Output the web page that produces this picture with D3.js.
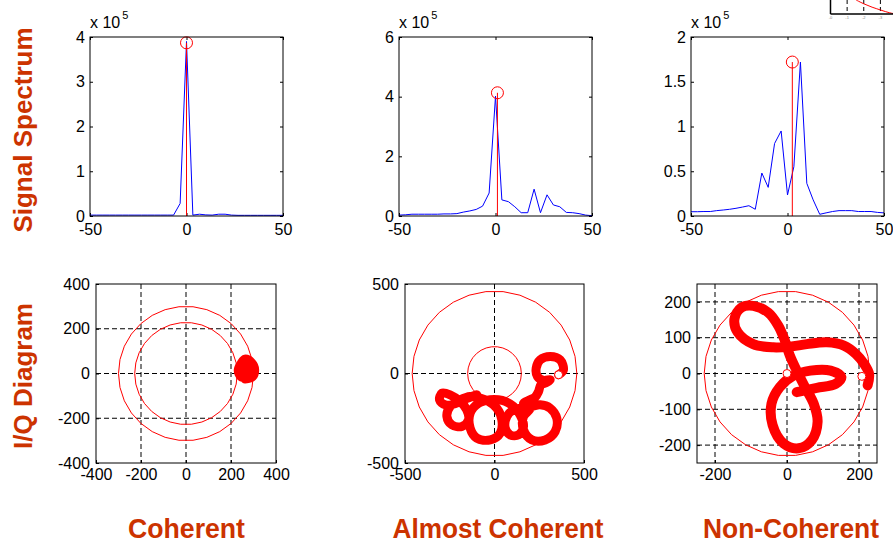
<!DOCTYPE html>
<html>
<head>
<meta charset="utf-8">
<script src="https://cdn.jsdelivr.net/npm/d3@7"></script>
<style>
  body { margin: 0; background: #fff; }
  svg { display: block; font-family: "Liberation Sans", Arial, Helvetica, sans-serif; }
</style>
</head>
<body>
<div id="chart"></div>
<script>
// ---- data (spectrum values are in units of 1e5) ----
const freqBins = [-50, -46.7, -43.3, -40, -36.7, -33.3, -30, -26.7, -23.3, -20, -16.7, -13.3, -10, -6.7, -3.3, 0,
                  3.3, 6.7, 10, 13.3, 16.7, 20, 23.3, 26.7, 30, 33.3, 36.7, 40, 43.3, 46.7, 50];
const coherentSpec = [0.02, 0.02, 0.02, 0.02, 0.02, 0.02, 0.02, 0.02, 0.02, 0.02, 0.02, 0.02, 0.02, 0.02, 0.28, 3.90,
                      0.02, 0.04, 0.025, 0.02, 0.04, 0.04, 0.02, 0.015, 0.015, 0.015, 0.015, 0.015, 0.015, 0.015, 0.015];
const almostSpec = [0.03, 0.04, 0.06, 0.06, 0.06, 0.06, 0.06, 0.07, 0.07, 0.08, 0.13, 0.17, 0.22, 0.33, 0.77, 4.02,
                    0.54, 0.48, 0.31, 0.11, 0.11, 0.90, 0.11, 0.71, 0.37, 0.31, 0.12, 0.11, 0.08, 0.03, 0.01];
const nonCohSpec = [0.048, 0.048, 0.05, 0.05, 0.06, 0.067, 0.075, 0.086, 0.10, 0.115, 0.075, 0.48, 0.32, 0.81, 0.95, 0.235,
                    0.55, 1.72, 0.365, 0.18, 0.019, 0.035, 0.05, 0.06, 0.06, 0.06, 0.05, 0.05, 0.05, 0.04, 0.035];
const peakFreq = [0, 1.0, 2.5];
const peakValue = [3.87, 4.13, 1.72];

const specXTicks = [-50, 0, 50];
const specYTicks = [[0, 1, 2, 3, 4], [0, 2, 4, 6], [0, 0.5, 1, 1.5, 2]];

// I/Q traces [I, Q]
const coherentIQ = [[262, -25], [295, -15], [305, 18], [292, 48], [262, 64], [245, 45], [232, 15], [245, -15],
                    [270, -8], [288, 15], [275, 38], [252, 30], [250, 5], [268, 0], [275, 18]];
const almostIQ = [[358, -7], [385, 20], [367, 76], [311, 95], [255, 76], [233, 30], [240, -17], [274, -39], [311, -35],
                  [292, -50], [259, -63], [246, -101], [227, -132], [199, -147], [162, -166], [199, -194], [162, -240],
                  [162, -315], [209, -371], [283, -371], [339, -324], [348, -250], [311, -194], [255, -175], [209, -184],
                  [153, -194], [106, -203], [69, -240], [60, -305], [88, -343], [134, -343], [162, -296], [143, -231],
                  [106, -184], [60, -156], [22, -147], [-24, -147], [-89, -166], [-136, -222], [-136, -305], [-99, -361],
                  [-24, -371], [32, -333], [41, -259], [13, -194], [-34, -156], [-80, -138], [-136, -128], [-192, -147],
                  [-248, -184], [-266, -240], [-238, -287], [-182, -296], [-145, -259], [-155, -203], [-192, -156],
                  [-248, -119], [-294, -110], [-307, -147], [-276, -175], [-220, -169], [-173, -147], [-99, -119]];
const nonCohIQ = [[224, -33], [228, -1], [214, 27], [191, 55], [158, 78], [111, 87], [55, 82], [8, 75], [-38, 73],
                  [-94, 82], [-137, 115], [-146, 152], [-127, 184], [-94, 189], [-52, 170], [-24, 133], [-6, 92],
                  [8, 50], [27, 8], [50, -38], [74, -84], [85, -135], [69, -186], [32, -209], [-10, -195], [-40, -144],
                  [-43, -84], [-20, -38], [18, -6], [65, 8], [121, 8], [151, -10], [135, -29], [83, -40], [27, -52]];

const coherentRings = [300, 228];
const almostRings = [460, 150];
const nonCohRings = [230];
const almostMarks = [[358, -7]];
const nonCohMarks = [[0, 0], [208, -8]];

const iqTicks = [
  { x: [-400, -200, 0, 200, 400], y: [-400, -200, 0, 200, 400], lim: 400 },
  { x: [-500, 0, 500], y: [-500, 0, 500], lim: 500 },
  { x: [-200, 0, 200], y: [-200, -100, 0, 100, 200], lim: 250 }
];

const rowLabels = ["Signal Spectrum", "I/Q Diagram"];
const colLabels = ["Coherent", "Almost Coherent", "Non-Coherent"];

// little clipped piece of another figure in the top-right corner
const miniTicks = [0, 1, 2, 3];
const miniCurve = [[1.55, 0.58], [2.0, 0.42], [2.5, 0.28], [3.0, 0.17], [3.6, 0.03], [4.0, 0.0]];

// ---- layout ----
const width = 893, height = 543;
const labelColor = "#cc3300";
const topBoxes = [{ x0: 90, x1: 283 }, { x0: 399, x1: 592 }, { x0: 691, x1: 884 }];
const botBoxes = [{ x0: 96, x1: 276 }, { x0: 405, x1: 584 }, { x0: 697, x1: 877 }];
const topY = [37, 216], botY = [284, 463];

const svg = d3.select("#chart").append("svg")
  .attr("width", width)
  .attr("height", height)
  .style("background", "#fff");

function styleAxis(g) {
  g.select(".domain").remove();
  g.attr("font-family", null).attr("font-size", 16);
  g.selectAll(".tick line").attr("stroke", "#000");
  g.selectAll(".tick text").attr("fill", "#000");
}

function drawSpectrum(i, values) {
  const b = topBoxes[i];
  const x = d3.scaleLinear().domain([-50, 50]).range([b.x0, b.x1]);
  const yT = specYTicks[i];
  const y = d3.scaleLinear().domain([0, yT[yT.length - 1]]).range([topY[1], topY[0]]);
  const fmt = d => String(d);

  svg.append("g").attr("transform", `translate(0,${topY[1]})`)
    .call(d3.axisBottom(x).tickValues(specXTicks).tickFormat(fmt).tickSize(-3).tickSizeOuter(0).tickPadding(8))
    .call(styleAxis);
  svg.append("g").attr("transform", `translate(0,${topY[0]})`)
    .call(d3.axisTop(x).tickValues(specXTicks).tickFormat("").tickSize(-3).tickSizeOuter(0))
    .call(styleAxis);
  svg.append("g").attr("transform", `translate(${b.x0},0)`)
    .call(d3.axisLeft(y).tickValues(yT).tickFormat(fmt).tickSize(-3).tickSizeOuter(0).tickPadding(5))
    .call(styleAxis);
  svg.append("g").attr("transform", `translate(${b.x1},0)`)
    .call(d3.axisRight(y).tickValues(yT).tickFormat("").tickSize(-3).tickSizeOuter(0))
    .call(styleAxis);

  // spectrum line
  const line = d3.line().x((d, k) => x(freqBins[k])).y(d => y(d));
  svg.append("path")
    .datum(values)
    .attr("d", line)
    .attr("fill", "none")
    .attr("stroke", "#0000ff")
    .attr("stroke-width", 1);

  // detected peak: stem + circle
  svg.append("line")
    .attr("x1", x(peakFreq[i])).attr("x2", x(peakFreq[i]))
    .attr("y1", y(0)).attr("y2", y(peakValue[i]))
    .attr("stroke", "#ff0000").attr("stroke-width", 1);
  svg.append("circle")
    .attr("cx", x(peakFreq[i])).attr("cy", y(peakValue[i]))
    .attr("r", 6)
    .attr("fill", "none").attr("stroke", "#ff0000").attr("stroke-width", 1);

  // box
  svg.append("rect")
    .attr("x", b.x0).attr("y", topY[0])
    .attr("width", b.x1 - b.x0).attr("height", topY[1] - topY[0])
    .attr("fill", "none").attr("stroke", "#000").attr("stroke-width", 1);

  // exponent label
  const t = svg.append("text")
    .attr("x", b.x0).attr("y", 28)
    .attr("font-size", 16)
    .text("x 10");
  t.append("tspan").attr("dx", 2).attr("dy", -9).attr("font-size", 11).text("5");
}

function drawIQ(i, trace, rings, marks, strokeW) {
  const b = botBoxes[i];
  const tk = iqTicks[i];
  const x = d3.scaleLinear().domain([-tk.lim, tk.lim]).range([b.x0, b.x1]);
  const y = d3.scaleLinear().domain([-tk.lim, tk.lim]).range([botY[1], botY[0]]);
  const fmt = d => String(d);

  // dashed grid
  svg.append("g").selectAll("line")
    .data(tk.x.filter(v => Math.abs(v) < tk.lim))
    .join("line")
    .attr("x1", d => x(d)).attr("x2", d => x(d))
    .attr("y1", botY[0]).attr("y2", botY[1])
    .attr("stroke", "#000").attr("stroke-dasharray", "5,3");
  svg.append("g").selectAll("line")
    .data(tk.y.filter(v => Math.abs(v) < tk.lim))
    .join("line")
    .attr("y1", d => y(d)).attr("y2", d => y(d))
    .attr("x1", b.x0).attr("x2", b.x1)
    .attr("stroke", "#000").attr("stroke-dasharray", "5,3");

  svg.append("g").attr("transform", `translate(0,${botY[1]})`)
    .call(d3.axisBottom(x).tickValues(tk.x).tickFormat(fmt).tickSize(-3).tickSizeOuter(0).tickPadding(6))
    .call(styleAxis);
  svg.append("g").attr("transform", `translate(${b.x0},0)`)
    .call(d3.axisLeft(y).tickValues(tk.y).tickFormat(fmt).tickSize(-3).tickSizeOuter(0).tickPadding(6))
    .call(styleAxis);

  // reference rings (drawn as polygons like the original)
  const ang = d3.range(0, 361, 12).map(a => a * Math.PI / 180);
  const ringLine = d3.line().x(d => x(d[0])).y(d => y(d[1]));
  rings.forEach(r => {
    svg.append("path")
      .datum(ang.map(a => [r * Math.cos(a), r * Math.sin(a)]))
      .attr("d", ringLine)
      .attr("fill", "none").attr("stroke", "#ff0000").attr("stroke-width", 1);
  });

  // I/Q trace
  const traceLine = d3.line().x(d => x(d[0])).y(d => y(d[1])).curve(d3.curveCatmullRom.alpha(0.5));
  svg.append("path")
    .datum(trace)
    .attr("d", traceLine)
    .attr("fill", "none")
    .attr("stroke", "#ff0000")
    .attr("stroke-width", strokeW)
    .attr("stroke-linecap", "round")
    .attr("stroke-linejoin", "round");

  svg.append("g").selectAll("circle")
    .data(marks)
    .join("circle")
    .attr("cx", d => x(d[0])).attr("cy", d => y(d[1]))
    .attr("r", 4)
    .attr("fill", "#fff").attr("stroke", "#ff0000").attr("stroke-width", 1);

  svg.append("rect")
    .attr("x", b.x0).attr("y", botY[0])
    .attr("width", b.x1 - b.x0).attr("height", botY[1] - botY[0])
    .attr("fill", "none").attr("stroke", "#000").attr("stroke-width", 1);
}

drawSpectrum(0, coherentSpec);
drawSpectrum(1, almostSpec);
drawSpectrum(2, nonCohSpec);

drawIQ(0, coherentIQ, coherentRings, [], 9);
drawIQ(1, almostIQ, almostRings, almostMarks, 9);
drawIQ(2, nonCohIQ, nonCohRings, nonCohMarks, 10);

// Row labels
svg.append("text")
  .attr("transform", "translate(32,130) rotate(-90)")
  .attr("text-anchor", "middle")
  .attr("fill", labelColor)
  .attr("font-weight", "bold")
  .attr("font-size", 26)
  .text(rowLabels[0]);
svg.append("text")
  .attr("transform", "translate(32,376) rotate(-90)")
  .attr("text-anchor", "middle")
  .attr("fill", labelColor)
  .attr("font-weight", "bold")
  .attr("font-size", 26)
  .text(rowLabels[1]);

// Column labels
const colCenters = [186.5, 498, 791];
const colWidths = [117, 211, 176];
svg.append("g").selectAll("text")
  .data(colLabels)
  .join("text")
  .attr("x", (d, k) => colCenters[k] - colWidths[k] / 2)
  .attr("y", 538)
  .attr("textLength", (d, k) => colWidths[k])
  .attr("lengthAdjust", "spacingAndGlyphs")
  .attr("fill", labelColor)
  .attr("font-weight", "bold")
  .attr("font-size", 28)
  .text(d => d);

// Clipped fragment of a neighbouring figure (top-right corner)
const mx = d3.scaleLinear().domain([0, 4]).range([830.5, 897]);
const my = d3.scaleLinear().domain([0, 1]).range([14, -10]);
const mini = svg.append("g");
mini.selectAll("line.grid")
  .data(miniTicks.slice(1))
  .join("line")
  .attr("class", "grid")
  .attr("x1", d => mx(d)).attr("x2", d => mx(d))
  .attr("y1", 0).attr("y2", 14)
  .attr("stroke", "#000").attr("stroke-dasharray", "4,3");
mini.append("path")
  .datum(miniCurve)
  .attr("d", d3.line().x(d => mx(d[0])).y(d => my(d[1])).curve(d3.curveBasis))
  .attr("fill", "none").attr("stroke", "#ff0000").attr("stroke-width", 1);
mini.append("line")
  .attr("x1", mx(0)).attr("x2", mx(0)).attr("y1", 0).attr("y2", 14)
  .attr("stroke", "#000").attr("stroke-width", 1.5);
mini.append("line")
  .attr("x1", mx(0)).attr("x2", width).attr("y1", 14).attr("y2", 14)
  .attr("stroke", "#000").attr("stroke-width", 1.5);
mini.selectAll("text")
  .data(miniTicks)
  .join("text")
  .attr("x", d => mx(d)).attr("y", 19)
  .attr("text-anchor", "middle")
  .attr("font-size", 4)
  .attr("fill", "#888")
  .text(d => "-" + d);
</script>
</body>
</html>
